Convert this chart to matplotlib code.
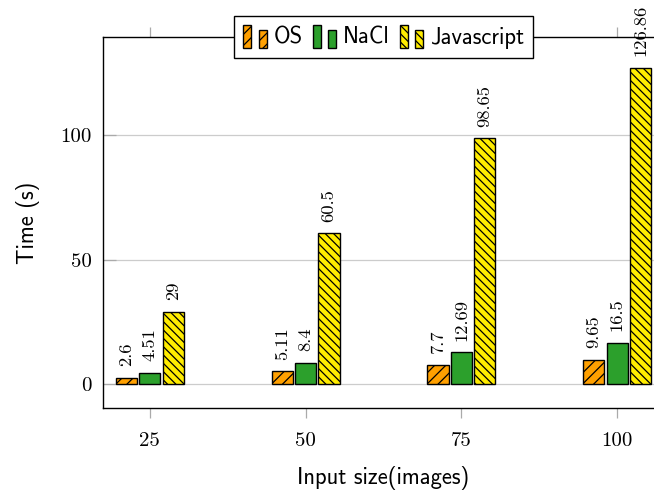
import numpy as np
import matplotlib
matplotlib.use("Agg")
import matplotlib.pyplot as plt
from matplotlib.patches import Rectangle
from matplotlib.legend_handler import HandlerBase

# data
input_sizes = [25, 50, 75, 100]
os_times = [2.6, 5.11, 7.7, 9.65]
nacl_times = [4.51, 8.4, 12.69, 16.5]
js_times = [29, 60.5, 98.65, 126.86]
series_names = ["OS", "NaCl", "Javascript"]
y_ticks = [0, 50, 100]

colors = ["#ffa000", "#2ca02c", "#ffec00"]
hatches = ["///", None, "\\\\\\\\"]

plt.rcParams["hatch.linewidth"] = 0.9


class TwoBarHandler(HandlerBase):
    # pgfplots-style ybar legend: two small bars of different height
    def create_artists(self, legend, orig_handle, xdescent, ydescent,
                       width, height, fontsize, trans):
        w = width * 0.34
        arts = []
        for x0, h in [(-xdescent, height), (-xdescent + width - w, height * 0.8)]:
            r = Rectangle((x0, -ydescent), w, h,
                          facecolor=orig_handle.get_facecolor(),
                          edgecolor="black", linewidth=1.0,
                          hatch=orig_handle.get_hatch(), transform=trans)
            arts.append(r)
        return arts


fig = plt.figure(figsize=(6.54, 4.95), dpi=100)
ax = fig.add_axes([103 / 654, 1 - 408 / 495, (664 - 103) / 654, (408 - 37) / 495])

x = np.array(input_sizes, dtype=float)
offset = 3.75
width = 3.4
handles = []
for i, vals in enumerate([os_times, nacl_times, js_times]):
    bars = ax.bar(x + (i - 1) * offset, vals, width=width, color=colors[i],
                  edgecolor="black", linewidth=1.0, hatch=hatches[i],
                  label=series_names[i], zorder=3)
    handles.append(bars.patches[0])
    for xv, v in zip(x + (i - 1) * offset, vals):
        ax.annotate(f"{v:g}", (xv, v), xytext=(0, 8.5), textcoords="offset points",
                    rotation=90, ha="center", va="bottom",
                    fontsize=13.4, family="cmr10")

ax.set_xlim(17.5, 107.5)
ax.set_ylim(-9.6, 139.4)

ax.set_xticks(input_sizes)
ax.set_xticklabels([str(s) for s in input_sizes], family="cmr10", fontsize=15)
ax.set_yticks(y_ticks)
ax.set_yticklabels([str(t) for t in y_ticks], family="cmr10", fontsize=15)

ax.tick_params(axis="x", direction="out", length=7, width=0.9, color="#aaaaaa",
               top=True, bottom=True, pad=10)
ax.tick_params(axis="y", direction="in", length=9, width=0.9, color="#aaaaaa",
               left=True, right=False, pad=8)

ax.yaxis.grid(True, color="#cccccc", linewidth=0.9)
ax.set_axisbelow(True)
for sp in ax.spines.values():
    sp.set_linewidth(1.0)
    sp.set_color("black")

ax.set_xlabel("Input size(images)", family="cmss10", fontsize=16.3, labelpad=12)
ax.set_ylabel("Time (s)", family="cmss10", fontsize=16.3, labelpad=15)

leg = ax.legend(handles=handles, labels=series_names, loc="center",
                bbox_to_anchor=(0.5, 1.0), ncol=3, frameon=True, fancybox=False,
                framealpha=1, edgecolor="black", prop={"family": "cmss10", "size": 16.3},
                handler_map={h: TwoBarHandler() for h in handles},
                handlelength=1.05, handleheight=1.15, handletextpad=0.28,
                columnspacing=0.45, borderpad=0.42, borderaxespad=0)
leg.get_frame().set_linewidth(1.0)

fig.savefig("out.png", dpi=100)
